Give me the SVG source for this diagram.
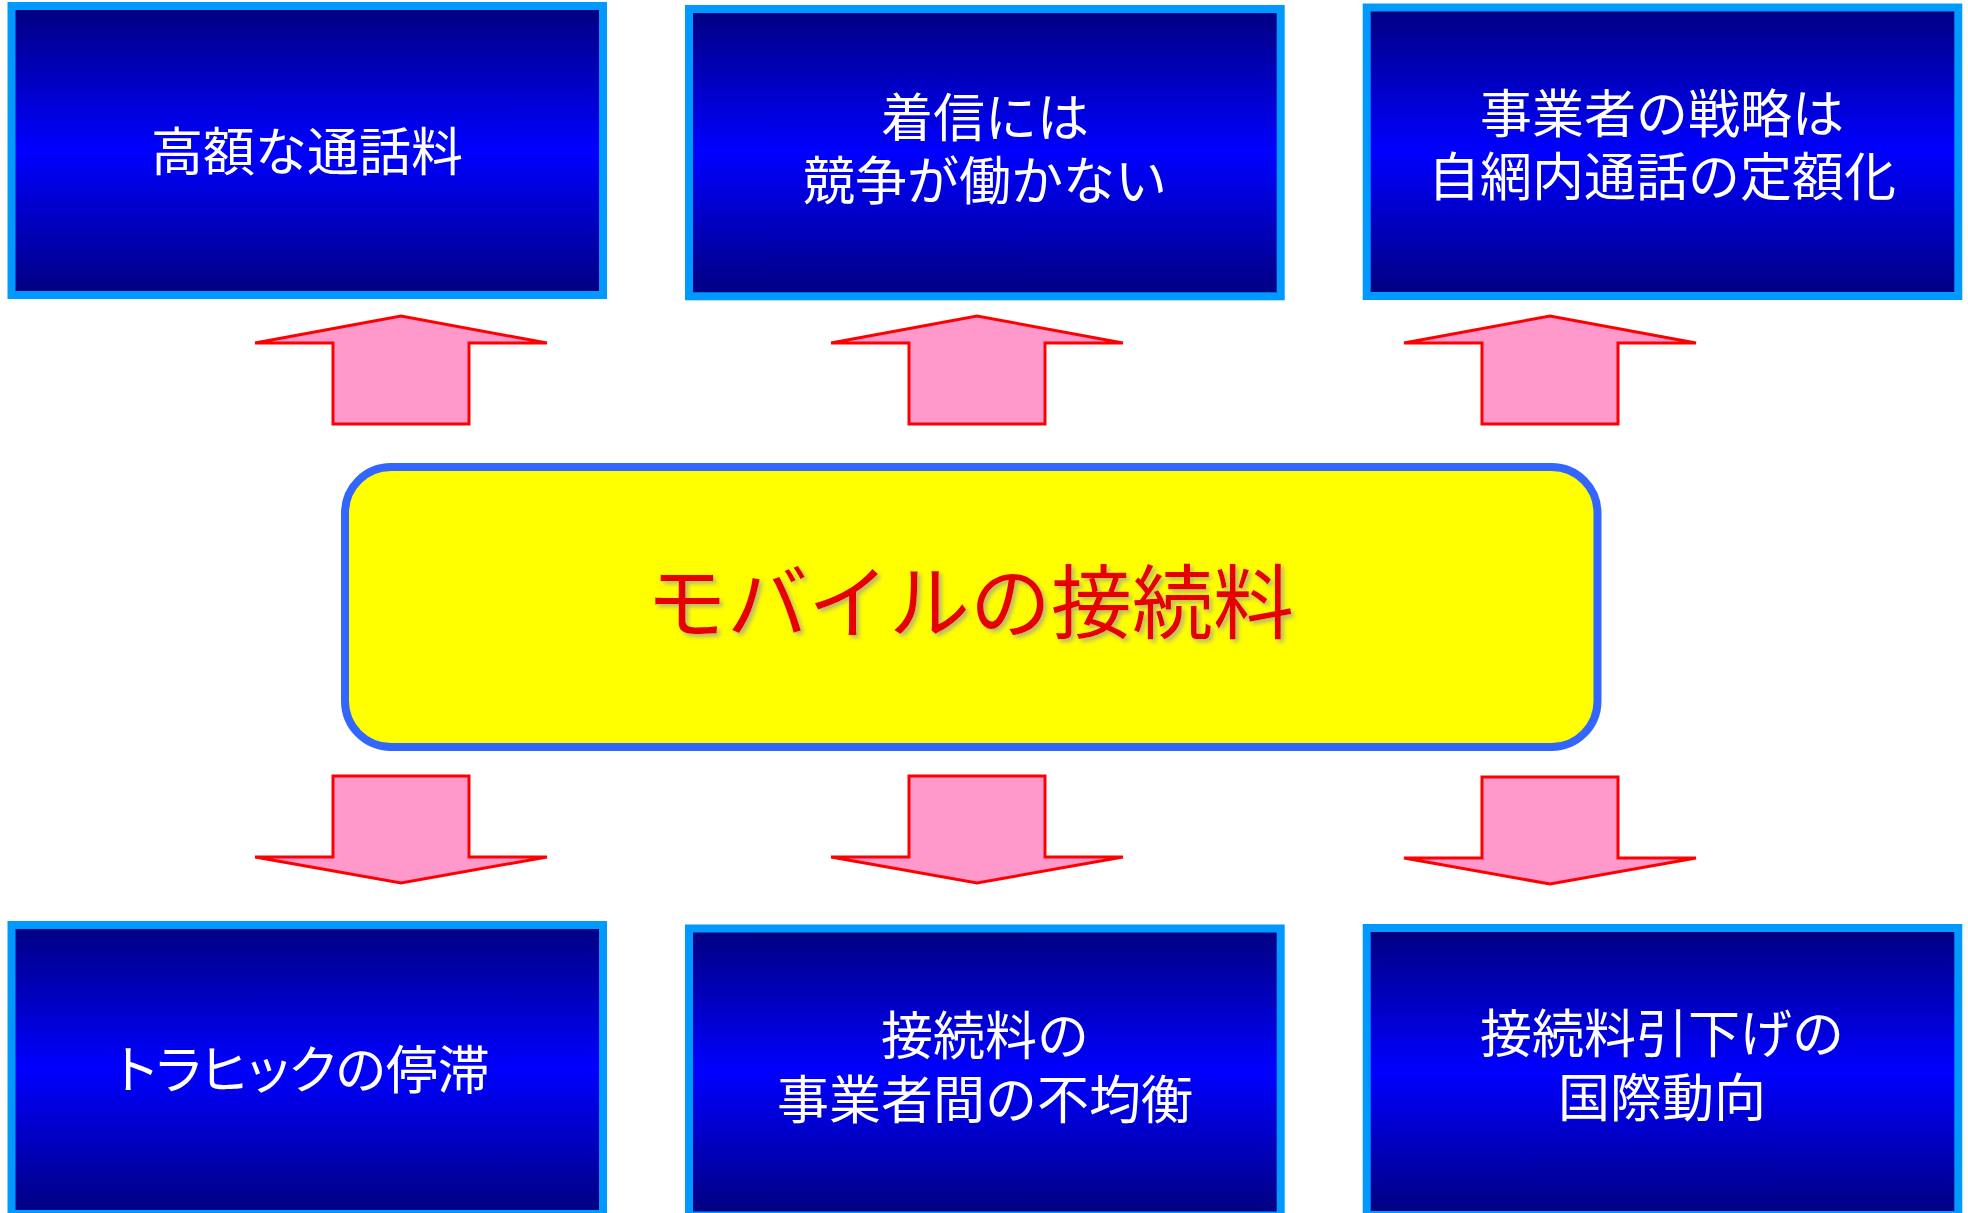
<svg xmlns="http://www.w3.org/2000/svg" width="1968" height="1213" viewBox="0 0 1968 1213">
<defs>
<linearGradient id="blueGrad" x1="0" y1="0" x2="0" y2="1">
<stop offset="0" stop-color="#000080"/>
<stop offset="0.5" stop-color="#0000FF"/>
<stop offset="1" stop-color="#000080"/>
</linearGradient>
<filter id="shadow" x="-5%" y="-20%" width="110%" height="140%">
<feDropShadow dx="3" dy="3" stdDeviation="2" flood-color="#999999" flood-opacity="0.7"/>
</filter>
</defs>
<style>
.box{fill:url(#blueGrad);stroke:#0099FF;stroke-width:8}
.lbl{font-family:"Noto Sans CJK JP","Noto Sans",sans-serif;font-size:52px;fill:#FFFFFF;text-anchor:middle}
.palt{font-feature-settings:"palt" 1}
.arrow{fill:#FF99CC;stroke:#FF0000;stroke-width:3;stroke-linejoin:miter}
.center{fill:#FFFF00;stroke:#3366FF;stroke-width:8}
.title{font-family:"Noto Sans CJK JP","Noto Sans",sans-serif;font-size:81px;fill:#E60000;text-anchor:middle}
</style>
<rect width="1968" height="1213" fill="#FFFFFF"/>

<g id="top1">
<rect class="box" x="11.5" y="6" width="591.5" height="289"/>
<text class="lbl" x="307" y="171">高額な通話料</text>
</g>
<g id="top2">
<rect class="box" x="689" y="9" width="591.7" height="287.3"/>
<text class="lbl"><tspan x="985" y="137">着信には</tspan><tspan x="985" y="200">競争が働かない</tspan></text>
</g>
<g id="top3">
<rect class="box" x="1366.7" y="7.5" width="591.6" height="288.5"/>
<text class="lbl"><tspan x="1662" y="133">事業者の戦略は</tspan><tspan x="1662" y="196">自網内通話の定額化</tspan></text>
</g>

<g id="center">
<rect class="center" x="345" y="467" width="1252.5" height="280" rx="46" ry="46"/>
<text class="title" x="970" y="632" filter="url(#shadow)">モバイルの接続料</text>
</g>

<g id="bottom1">
<rect class="box" x="11.5" y="925" width="591.5" height="289"/>
<text class="lbl palt" x="303" y="1089">トラヒックの停滞</text>
</g>
<g id="bottom2">
<rect class="box" x="689" y="928.5" width="591.7" height="287"/>
<text class="lbl"><tspan x="985" y="1055">接続料の</tspan><tspan x="985" y="1119">事業者間の不均衡</tspan></text>
</g>
<g id="bottom3">
<rect class="box" x="1366.7" y="928" width="591.6" height="287"/>
<text class="lbl"><tspan x="1662" y="1053">接続料引下げの</tspan><tspan x="1662" y="1117">国際動向</tspan></text>
</g>

<g id="connectors">
<polygon class="arrow" points="255,343 401,316 547,343 469,343 469,424 333,424 333,343"/>
<polygon class="arrow" points="831,343 977,316 1123,343 1045,343 1045,424 909,424 909,343"/>
<polygon class="arrow" points="1404,343 1550,316 1696,343 1618,343 1618,424 1482,424 1482,343"/>
<polygon class="arrow" points="333,776 469,776 469,857 547,857 401,883 255,857 333,857"/>
<polygon class="arrow" points="909,776 1045,776 1045,857 1123,857 977,883 831,857 909,857"/>
<polygon class="arrow" points="1482,777 1618,777 1618,858 1696,858 1550,884 1404,858 1482,858"/>
</g>
</svg>
